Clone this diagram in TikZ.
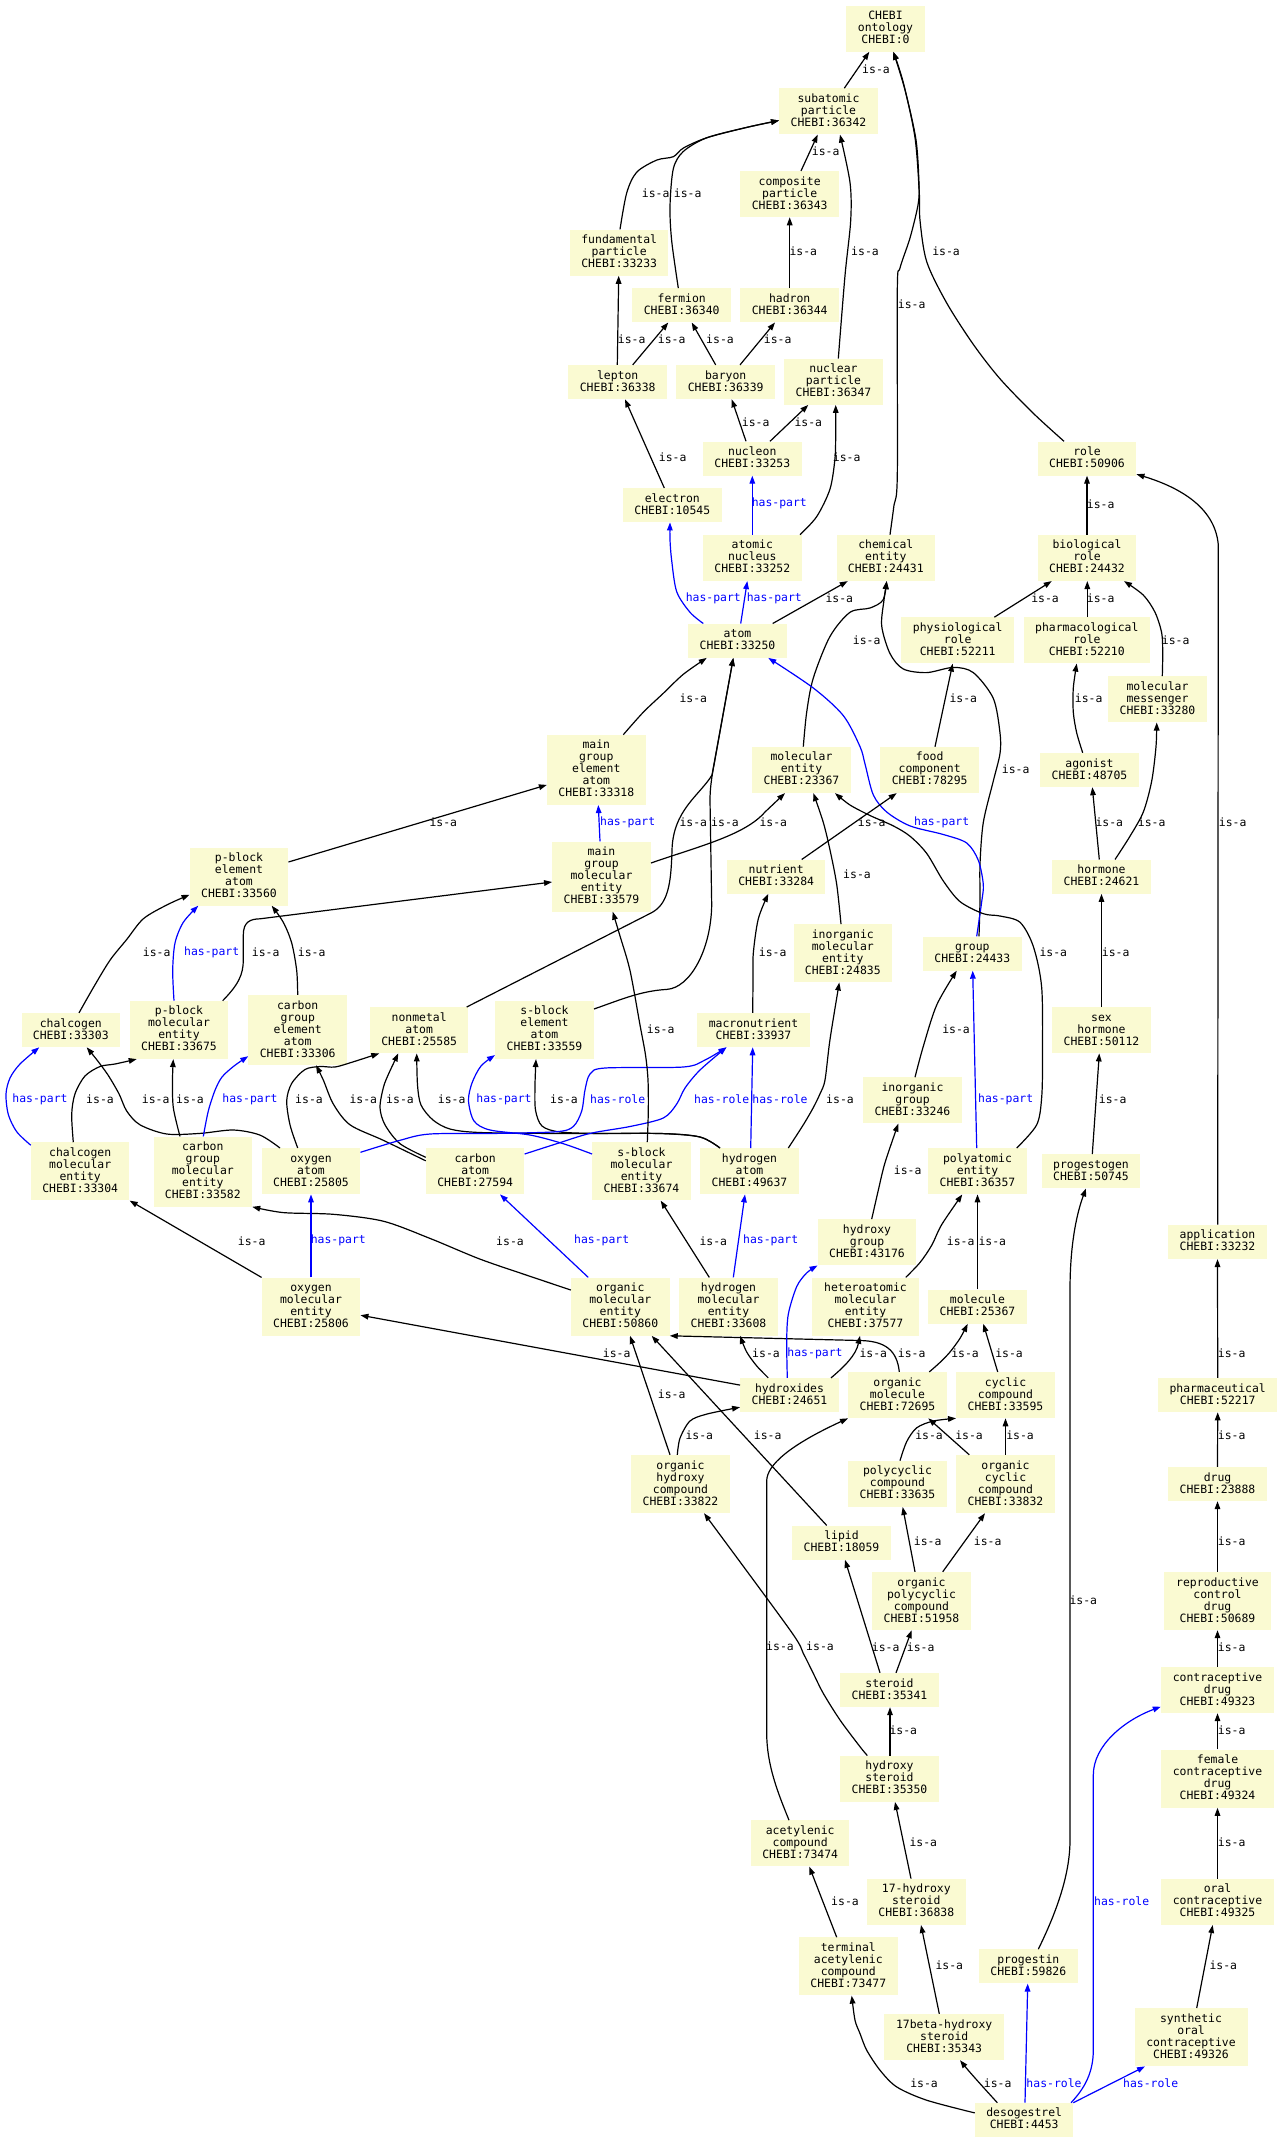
\documentclass[tikz,border=0pt]{standalone}
\usepackage{fontspec}
\newfontfamily\dvm{DejaVu Sans Mono}
\usetikzlibrary{arrows.meta,calc}
\definecolor{nodebg}{HTML}{FAFAD2}
\newcommand\nodefont{\dvm\fontsize{11.43pt}{12pt}\selectfont}
\newcommand\strA{\rule{0pt}{9pt}}
\newcommand\strB{\rule[-3pt]{0pt}{3pt}}
\newcommand\MkNode[6]{\node[nb,minimum width=#4pt,minimum height=#5pt] (#1) at (#2,#3) {\strA#6\strB};}
\newcommand\LabIs[3]{\node[lbl] (#1) at (#2,#3) {is-a};}
\newcommand\LabPart[3]{\node[lbl,text=blue] (#1) at (#2,#3) {has-part};}
\newcommand\LabRole[3]{\node[lbl,text=blue] (#1) at (#2,#3) {has-role};}
\begin{document}
\begin{tikzpicture}[x=1pt,y=-1pt,
  nb/.style={fill=nodebg,inner sep=0pt,align=center,font=\nodefont},
  lbl/.style={font=\nodefont,inner sep=0pt},
  isa/.style={black,line width=1.2pt,-{Triangle[length=8pt,width=5.6pt]}},
  hp/.style={isa,blue}]
\useasboundingbox (0,0) rectangle (1283,2143);
\fill[white] (0,0) rectangle (1283,2143);
% ---------------- nodes
\MkNode{ont}{885.5}{28.6}{79}{46}{CHEBI\\ontology\\CHEBI:0}
\MkNode{sub}{828.5}{111.4}{98.5}{46}{subatomic\\particle\\CHEBI:36342}
\MkNode{comp}{789.7}{194.1}{98.5}{46}{composite\\particle\\CHEBI:36343}
\MkNode{fund}{619.2}{252.6}{98.5}{46}{fundamental\\particle\\CHEBI:33233}
\MkNode{ferm}{681.7}{305.3}{98.5}{34}{fermion\\CHEBI:36340}
\MkNode{hadr}{789.7}{305.3}{98.5}{34}{hadron\\CHEBI:36344}
\MkNode{lept}{617.7}{382.1}{98.5}{34}{lepton\\CHEBI:36338}
\MkNode{bary}{725.7}{382.1}{98.5}{34}{baryon\\CHEBI:36339}
\MkNode{nucp}{833.5}{381.7}{98.5}{46}{nuclear\\particle\\CHEBI:36347}
\MkNode{nucl}{752.3}{458.5}{98.5}{34}{nucleon\\CHEBI:33253}
\MkNode{elec}{672.3}{505.2}{98.5}{34}{electron\\CHEBI:10545}
\MkNode{role}{1087}{458.5}{98.5}{34}{role\\CHEBI:50906}
\MkNode{anuc}{752.3}{557.9}{98.5}{46}{atomic\\nucleus\\CHEBI:33252}
\MkNode{chem}{885.8}{557.9}{98.5}{46}{chemical\\entity\\CHEBI:24431}
\MkNode{biol}{1087}{557.9}{98.5}{46}{biological\\role\\CHEBI:24432}
\MkNode{atom}{737.5}{640.7}{98.5}{34}{atom\\CHEBI:33250}
\MkNode{phys}{957.7}{640.4}{113}{46}{physiological\\role\\CHEBI:52211}
\MkNode{phar}{1086.8}{640.4}{126}{46}{pharmacological\\role\\CHEBI:52210}
\MkNode{mmsg}{1157.5}{699.3}{98.5}{46}{molecular\\messenger\\CHEBI:33280}
\MkNode{mgea}{596.3}{769.9}{98.5}{70}{main\\group\\element\\atom\\CHEBI:33318}
\MkNode{mole}{801.5}{769.9}{98.5}{46}{molecular\\entity\\CHEBI:23367}
\MkNode{food}{929.7}{769.9}{98.5}{46}{food\\component\\CHEBI:78295}
\MkNode{agon}{1089.5}{770}{98.5}{34}{agonist\\CHEBI:48705}
\MkNode{pbea}{239}{876.5}{98.5}{58}{p-block\\element\\atom\\CHEBI:33560}
\MkNode{mgme}{601.5}{876.5}{98.5}{70}{main\\group\\molecular\\entity\\CHEBI:33579}
\MkNode{nutr}{776.2}{876.7}{98.5}{34}{nutrient\\CHEBI:33284}
\MkNode{horm}{1101.5}{876.7}{98.5}{34}{hormone\\CHEBI:24621}
\MkNode{imol}{842.8}{953.3}{98.5}{58}{inorganic\\molecular\\entity\\CHEBI:24835}
\MkNode{grp}{972.3}{953.5}{98.5}{34}{group\\CHEBI:24433}
\MkNode{chal}{70.8}{1030.1}{98.5}{34}{chalcogen\\CHEBI:33303}
\MkNode{pbme}{179}{1029.9}{98.5}{58}{p-block\\molecular\\entity\\CHEBI:33675}
\MkNode{cgea}{297.7}{1030}{98.5}{70}{carbon\\group\\element\\atom\\CHEBI:33306}
\MkNode{nonm}{419.2}{1030.2}{98.5}{46}{nonmetal\\atom\\CHEBI:25585}
\MkNode{sbea}{544.5}{1029.9}{98.5}{58}{s-block\\element\\atom\\CHEBI:33559}
\MkNode{macr}{753.5}{1030.1}{113}{34}{macronutrient\\CHEBI:33937}
\MkNode{sexh}{1101.5}{1030.2}{98.5}{46}{sex\\hormone\\CHEBI:50112}
\MkNode{igrp}{912.5}{1100.4}{98.5}{46}{inorganic\\group\\CHEBI:33246}
\MkNode{chme}{80.2}{1171.4}{98.5}{58}{chalcogen\\molecular\\entity\\CHEBI:33304}
\MkNode{cgme}{202.8}{1171.6}{98.5}{70}{carbon\\group\\molecular\\entity\\CHEBI:33582}
\MkNode{oxat}{311}{1171.2}{98.5}{46}{oxygen\\atom\\CHEBI:25805}
\MkNode{carb}{475.2}{1171.2}{98.5}{46}{carbon\\atom\\CHEBI:27594}
\MkNode{sbme}{641.5}{1171.4}{98.5}{58}{s-block\\molecular\\entity\\CHEBI:33674}
\MkNode{hyat}{749.5}{1171.2}{98.5}{46}{hydrogen\\atom\\CHEBI:49637}
\MkNode{poly}{977.5}{1171.2}{98.5}{46}{polyatomic\\entity\\CHEBI:36357}
\MkNode{prgg}{1091}{1171.2}{98.5}{34}{progestogen\\CHEBI:50745}
\MkNode{hgrp}{867}{1242.3}{98.5}{46}{hydroxy\\group\\CHEBI:43176}
\MkNode{appl}{1217.5}{1241.9}{98.5}{34}{application\\CHEBI:33232}
\MkNode{oxme}{311}{1306.6}{98.5}{58}{oxygen\\molecular\\entity\\CHEBI:25806}
\MkNode{orme}{620.3}{1306.6}{98.5}{58}{organic\\molecular\\entity\\CHEBI:50860}
\MkNode{hyme}{728.5}{1306.6}{98.5}{58}{hydrogen\\molecular\\entity\\CHEBI:33608}
\MkNode{hetm}{865.5}{1306.6}{106.4}{58}{heteroatomic\\molecular\\entity\\CHEBI:37577}
\MkNode{molc}{977.5}{1306.6}{98.5}{34}{molecule\\CHEBI:25367}
\MkNode{hydx}{789.5}{1395.1}{98.5}{34}{hydroxides\\CHEBI:24651}
\MkNode{orgm}{897.5}{1395.1}{98.5}{46}{organic\\molecule\\CHEBI:72695}
\MkNode{cycc}{1005.5}{1395.1}{98.5}{46}{cyclic\\compound\\CHEBI:33595}
\MkNode{phrm}{1217.7}{1395.1}{119.3}{34}{pharmaceutical\\CHEBI:52217}
\MkNode{ohyc}{680.5}{1484}{98.5}{58}{organic\\hydroxy\\compound\\CHEBI:33822}
\MkNode{pcyc}{897.5}{1483.8}{98.5}{46}{polycyclic\\compound\\CHEBI:33635}
\MkNode{occ}{1005.5}{1484}{98.5}{58}{organic\\cyclic\\compound\\CHEBI:33832}
\MkNode{drug}{1217.5}{1484}{98.5}{34}{drug\\CHEBI:23888}
\MkNode{lipd}{841.5}{1542.6}{98.5}{34}{lipid\\CHEBI:18059}
\MkNode{opc}{921.5}{1601}{98.5}{58}{organic\\polycyclic\\compound\\CHEBI:51958}
\MkNode{rcd}{1217.5}{1601}{106.4}{58}{reproductive\\control\\drug\\CHEBI:50689}
\MkNode{ster}{889.5}{1690}{98.5}{34}{steroid\\CHEBI:35341}
\MkNode{cdrg}{1217.5}{1690}{113}{46}{contraceptive\\drug\\CHEBI:49323}
\MkNode{hyst}{889.5}{1778.7}{98.5}{46}{hydroxy\\steroid\\CHEBI:35350}
\MkNode{fcd}{1217.5}{1778.6}{113}{58}{female\\contraceptive\\drug\\CHEBI:49324}
\MkNode{acet}{800.2}{1843.4}{98.5}{46}{acetylenic\\compound\\CHEBI:73474}
\MkNode{hsvt}{916.3}{1901.8}{98.5}{46}{17-hydroxy\\steroid\\CHEBI:36838}
\MkNode{orc}{1217.5}{1901.8}{113}{46}{oral\\contraceptive\\CHEBI:49325}
\MkNode{tac}{848.3}{1966.4}{98.5}{58}{terminal\\acetylenic\\compound\\CHEBI:73477}
\MkNode{prgn}{1028.3}{1966.4}{98.5}{34}{progestin\\CHEBI:59826}
\MkNode{hsvb}{944.2}{2037}{120}{46}{17beta-hydroxy\\steroid\\CHEBI:35343}
\MkNode{soc}{1191}{2037.2}{113}{58}{synthetic\\oral\\contraceptive\\CHEBI:49326}
\MkNode{deso}{1024.2}{2119.9}{98.5}{34}{desogestrel\\CHEBI:4453}
% ---------------- edges: top
\draw[isa] ($(sub.north)+(15.8,0)$) -- ($(ont.south)+(-16.2,0)$);
\draw[isa] plot[smooth] coordinates {($(chem.north)+(4.2,0)$) (894,505) (897.3,475) (897.3,290) (900,268) (910,238) (918,205) (919,185) (916,140) (905,90) ($(ont.south)+(7.8,0)$)};
\draw[isa] plot[smooth] coordinates {($(role.north)+(-23,0)$) (1033.3,413.3) (1000,378.8) (973.3,344.4) (946.7,303) (926.7,261.7) (920,220.4) (919.3,192.9) (915,137.7) (903.3,82.6) ($(ont.south)+(7.8,0)$)};
\draw[isa] ($(comp.north)+(11.3,0)$) -- ($(sub.south)+(-10.8,0)$);
\draw[isa] plot[smooth] coordinates {($(fund.north)+(0.8,0)$) (626.7,192.9) (636.7,172.2) (656.7,160.1) (673.3,156.7) (683.3,148.1) (706.7,137.8) (746.7,127.4) ($(sub.west)+(0,9.1)$)};
\draw[isa] plot[smooth] coordinates {($(ferm.north)+(-3.4,0)$) (671.7,241) (670,206.6) (673.3,168.8) (683.3,151.5) (706.7,137.8) (746.7,127.4) ($(sub.west)+(0,9.1)$)};
\draw[isa] (hadr.north) -- (comp.south);
\draw[isa] plot[smooth] coordinates {($(nucp.north)+(4.8,0)$) (845,275.5) (850.7,220.4) (850,182.5) ($(sub.south)+(11.5,0)$)};
\draw[isa] ($(lept.north)+(-0.4,0)$) -- ($(fund.south)+(-0.5,0)$);
\draw[isa] ($(lept.north)+(15,0)$) -- ($(ferm.south)+(-13.4,0)$);
\draw[isa] ($(bary.north)+(-10,0)$) -- ($(ferm.south)+(10,0)$);
\draw[isa] ($(bary.north)+(14.3,0)$) -- ($(hadr.south)+(-14.7,0)$);
\draw[isa] ($(elec.north)+(-8,0)$) -- ($(lept.south)+(7.3,0)$);
\draw[isa] ($(nucl.north)+(-6.3,0)$) -- ($(bary.south)+(6,0)$);
\draw[isa] ($(nucl.north)+(17.7,0)$) -- ($(nucp.south)+(-25.2,0)$);
\draw[isa] plot[smooth] coordinates {($(anuc.north)+(47.7,0)$) (816.7,516.6) (830,489) (835,458) (835.7,430.5) ($(nucp.south)+(2.2,0)$)};
\draw[hp] (anuc.north) -- (nucl.south);
\draw[hp] plot[smooth] coordinates {($(atom.north)+(-34.2,0)$) (690,612.3) (676.7,591.7) (671.7,560.7) (670,540) ($(elec.south)+(-2.3,0)$)};
\draw[hp] ($(atom.north)+(3.2,0)$) -- ($(anuc.south)+(-5,0)$);
\draw[isa] ($(atom.north)+(35.2,0)$) -- ($(chem.south)+(-38.1,0)$);
\draw[isa] plot[smooth] coordinates {($(mole.north)+(1.8,0)$) (806.7,712) (813.3,678) (830,636.4) (850,612.3) (870,608) (883,600) ($(chem.south)+(0.9,0)$)};
\draw[isa] plot[smooth] coordinates {($(grp.north)+(6.7,0)$) (980,900) (980,864) (983.3,822.4) (993.3,781) (1000,753.5) (1000,732.9) (993.3,698.4) (973.3,672.6) (953.3,667.4) (926.7,672.6) (903.3,669) (890,653.6) (881.7,626) (884,600) ($(chem.south)+(0.9,0)$)};
\draw[hp] plot[smooth] coordinates {($(grp.north)+(4.4,0)$) (981.7,901.6) (983.3,884.4) (978.3,860.3) (966.7,843) (943.3,834.5) (910,825.9) (886.7,812) (873.3,794.9) (865,763.9) (860,746.6) (843.3,715.6) (813.3,688) ($(atom.south)+(30.8,0)$)};
\draw[isa] plot[smooth] coordinates {($(mgea.north)+(27,0)$) (643.3,712.2) (663.3,693.3) (683.3,674.3) ($(atom.south)+(-30.8,0)$)};
\draw[hp] ($(mgme.north)+(-1.5,0)$) -- ($(mgea.south)+(2,0)$);
\draw[isa] ($(mgme.east)+(0,-13.5)$) .. controls (700,846) and (745,835) .. (765,812) -- ($(mole.south)+(-16.5,0)$);
\draw[isa] ($(pbea.east)+(0,-14.5)$) -- ($(mgea.west)+(0,15)$);
\draw[isa] ($(pbme.north)+(43.7,0)$) .. controls (238,985) and (243.3,975) .. (243.3,960) -- (243.3,935) .. controls (243.3,922) and (250,919) .. (260,918.8) -- ($(mgme.west)+(0,5.5)$);
\draw[isa] plot[smooth] coordinates {($(chal.north)+(8.2,0)$) (93.3,987.7) (110,960.2) (126.7,939.5) (143.3,918.8) (166.7,905) ($(pbea.west)+(0,18.2)$)};
\draw[hp] plot[smooth] coordinates {($(pbme.north)+(-5,0)$) (172.7,970.5) (175,943) (183.3,922.3) ($(pbea.south)+(-40.7,0)$)};
\draw[isa] plot[smooth] coordinates {(cgea.north) (296.7,970.5) (291.7,943) (283.3,922.3) ($(pbea.south)+(32.7,0)$)};
\draw[isa] ($(nonm.north)+(47.5,0)$) -- (650,913.5) .. controls (668,905) and (671,885) .. (672,850) .. controls (673,810) and (700,795) .. (712,775) -- ($(atom.south)+(-4.2,0)$);
\draw[isa] ($(sbea.east)+(0,-20.9)$) .. controls (620,1000) and (640,991) .. (666.7,989.4) .. controls (690,988) and (711,950) .. (711.7,905) -- (710,800) .. controls (710,788) and (712,775) .. (714,765) -- ($(atom.south)+(-4.2,0)$);
\draw[isa] ($(nutr.north)+(25.5,0)$) -- ($(food.south)+(-33,0)$);
\draw[isa] plot[smooth] coordinates {($(imol.north)+(-1.8,0)$) (836.7,884.4) (830,850) (823.3,822.4) ($(mole.south)+(11.8,0)$)};
\draw[isa] plot[smooth] coordinates {($(poly.north)+(39.2,0)$) (1036.7,1124.8) (1041.7,1097) (1042.5,1056) (1041.7,987.7) (1033.3,946.4) (1020,922.3) (1000,916) (983.3,913.7) (960,901.6) (943.3,881) (926.7,853.4) (910,836.2) (893.3,825.9) (870,815.5) (850,805) ($(mole.south)+(33.5,0)$)};
\draw[isa] ($(food.north)+(5.3,0)$) -- ($(phys.south)+(-5,0)$);
\draw[isa] ($(phys.north)+(36.6,0)$) -- ($(biol.south)+(-35.3,0)$);
\draw[isa] ($(phar.north)+(0.5,0)$) -- ($(biol.south)+(0.3,0)$);
\draw[isa] plot[smooth] coordinates {($(mmsg.north)+(4.8,0)$) (1162.7,653.6) (1161.7,633) (1155,612.3) (1143.3,595.1) ($(biol.south)+(37,0)$)};
\draw[isa] (biol.north) -- (role.south);
\draw[isa] ($(appl.north)+(0.2,0)$) -- (1218.3,545) .. controls (1215,505) and (1175,486) .. ($(role.south east)+(0,-1.5)$);
\draw[isa] plot[smooth] coordinates {($(agon.north)+(-6.8,0)$) (1076.7,732.9) (1073.3,712.2) (1073.3,688.1) ($(phar.south)+(-10.1,0)$)};
\draw[isa] ($(horm.north)+(-2.2,0)$) -- ($(agon.south)+(2.8,0)$);
\draw[isa] plot[smooth] coordinates {($(horm.north)+(13.5,0)$) (1130,836.2) (1143.3,812) (1151.7,781) (1156,746.6) ($(mmsg.south)+(-0.8,0)$)};
\draw[isa] (sexh.north) -- (horm.south);
\draw[isa] ($(prgg.north)+(1.3,0)$) -- ($(sexh.south)+(-2.2,0)$);
\draw[isa] plot[smooth] coordinates {($(igrp.north)+(2.5,0)$) (923.3,1046.3) (936.7,1005) ($(grp.south)+(-15.6,0)$)};
\draw[hp] ($(poly.north)+(-0.8,0)$) -- ($(grp.south)+(0.4,0)$);
\draw[isa] plot[smooth] coordinates {($(hgrp.north)+(4.7,0)$) (878.3,1190.2) (885,1162.7) ($(igrp.south)+(-14.2,0)$)};
\draw[isa] plot[smooth] coordinates {($(hetm.north)+(40.2,0)$) (920,1262.5) (931.7,1245.3) (941.7,1224.6) ($(poly.south)+(-15.2,0)$)};
\draw[isa] (molc.north) -- (poly.south);
\draw[isa] plot[smooth] coordinates {($(orgm.north)+(31.8,0)$) (940,1362.4) (950,1352) (960,1338.3) ($(molc.south)+(-9.8,0)$)};
\draw[isa] ($(cycc.north)+(-7.8,0)$) -- ($(molc.south)+(5.8,0)$);
\draw[isa] ($(orgm.north)+(1.8,0)$) .. controls (897,1350) and (885,1341) .. (860,1340.5) -- (orme.south east);
\draw[isa] ($(hydx.north)+(41.5,0)$) .. controls (845,1366) and (856,1355) .. ($(hetm.south)+(-5.5,0)$);
\draw[isa] ($(hydx.west)+(0,-10)$) -- ($(oxme.east)+(0,8.6)$);
\draw[isa] plot[smooth] coordinates {($(hydx.north)+(-21.2,0)$) (756.7,1365.9) (746.7,1352) ($(hyme.south)+(11.5,0)$)};
\draw[hp] plot[smooth] coordinates {($(hydx.north)+(-2.2,0)$) (786.7,1341.7) (788.3,1314.2) (796.7,1286.6) (806.7,1272.9) (hgrp.south west)};
\draw[isa] (occ.north) -- (cycc.south);
\draw[isa] ($(occ.north)+(-36.2,0)$) -- ($(orgm.south)+(30.8,0)$);
\draw[isa] plot[smooth] coordinates {($(pcyc.north)+(2.5,0)$) (906.7,1441.6) (916.7,1427.8) (933.3,1421) (cycc.south west)};
\draw[isa] ($(opc.north)+(-6.5,0)$) -- ($(pcyc.south)+(5.2,0)$);
\draw[isa] ($(opc.north)+(21.2,0)$) -- ($(occ.south)+(-20.5,0)$);
\draw[isa] ($(ohyc.north)+(-10.5,0)$) -- ($(orme.south)+(9.7,0)$);
\draw[isa] plot[smooth] coordinates {($(ohyc.north)+(-3.2,0)$) (680,1438.2) (690,1421) (706.7,1414.1) ($(hydx.west)+(0,12.1)$)};
\draw[isa] ($(lipd.north)+(-14.8,0)$) -- ($(orme.south)+(31.4,0)$);
\draw[isa] ($(acet.north)+(-11.2,0)$) .. controls (778,1793) and (766.7,1765) .. (766.7,1733) -- (766.7,1481) .. controls (766.7,1465) and (790,1445) .. (orgm.south west);
\draw[isa] ($(ster.north)+(-9.5,0)$) -- ($(lipd.south)+(3.5,0)$);
\draw[isa] ($(ster.north)+(6.5,0)$) -- ($(opc.south)+(-9.8,0)$);
\draw[isa] ($(hyst.north)+(0.5,0)$) -- ($(ster.south)+(0.5,0)$);
\draw[isa] plot[smooth] coordinates {($(hyst.north)+(-22.2,0)$) (860,1746.7) (840,1720) (823.3,1693.4) (813.3,1673.4) (803.3,1653.4) (790,1630) ($(ohyc.south)+(23.5,0)$)};
\draw[isa] ($(hsvt.north)+(-5.3,0)$) -- ($(hyst.south)+(5.5,0)$);
\draw[isa] ($(hsvb.north)+(-4.9,0)$) -- ($(hsvt.south)+(4.7,0)$);
\draw[isa] ($(tac.north)+(-11.6,0)$) -- ($(acet.south)+(9.1,0)$);
\draw[isa] plot[smooth] coordinates {($(deso.west)+(0,-7)$) (926.7,2100.2) (896.7,2086.9) (880,2070.2) (866.7,2050.2) (860,2033.5) (855,2020.2) ($(tac.south)+(3.4,0)$)};
\draw[isa] plot[smooth] coordinates {($(deso.north)+(-26.9,0)$) (980,2083.6) (968,2070) ($(hsvb.south)+(15.8,0)$)};
\draw[hp] ($(deso.north)+(0.8,0)$) -- ($(prgn.south)+(-0.6,0)$);
\draw[hp] ($(deso.north)+(46.8,0)$) .. controls (1085,2088) and (1093.3,2072) .. (1093.3,2050) -- (1093.3,1775) .. controls (1093.3,1745) and (1125,1720) .. ($(cdrg.west)+(0,16.7)$);
\draw[hp] ($(deso.north)+(49.1,0)$) -- ($(soc.south)+(-46,0)$);
\draw[isa] ($(prgn.north)+(10,0)$) .. controls (1060,1905) and (1070,1870) .. (1070,1840) -- (1070,1290) .. controls (1070,1240) and (1078,1210) .. ($(prgg.south)+(-5,0)$);
\draw[isa] ($(soc.north)+(5.7,0)$) -- ($(orc.south)+(-4.8,0)$);
\draw[isa] (orc.north) -- (fcd.south);
\draw[isa] (fcd.north) -- (cdrg.south);
\draw[isa] (cdrg.north) -- (rcd.south);
\draw[isa] (rcd.north) -- (drug.south);
\draw[isa] (drug.north) -- (phrm.south);
\draw[isa] (phrm.north) -- (appl.south);
% ---------------- edges: middle-left
\draw[hp] plot[smooth] coordinates {($(chme.north west)+(0,3)$) (16.7,1131.7) (8.3,1114.4) (6,1094) (10,1078) (20,1064) ($(chal.south)+(-31.5,0)$)};
\draw[isa] plot[smooth] coordinates {($(chme.north)+(-6.9,0)$) (71.7,1114.4) (75,1093.8) (85,1076) (100,1066.5) (115,1064) ($(pbme.south)+(-42.3,0)$)};
\draw[isa] plot[smooth] coordinates {($(oxat.north)+(-31,0)$) (260,1135.1) (233.3,1130) (200,1133.4) (166.7,1134) (140,1124.8) (126.7,1111) (119,1093.8) (108,1075) (97,1060) ($(chal.south)+(15.9,0)$)};
\draw[isa] plot[smooth] coordinates {($(cgme.north)+(-22.8,0)$) (173.3,1107.6) (172.5,1080) ($(pbme.south)+(-5.7,0)$)};
\draw[hp] plot[smooth] coordinates {($(cgme.north)+(0.5,0)$) (208.3,1111) (215,1090.3) (222,1077) (234,1066) ($(cgea.south west)+(0,-9)$)};
\draw[isa] plot[smooth] coordinates {($(oxat.north)+(-13.3,0)$) (290,1124.8) (286.7,1100.7) (291.7,1083.4) (305,1069.5) (320,1066.5) (335,1067) (353.3,1061.8) ($(nonm.south)+(-39.9,0)$)};
\draw[isa] plot[smooth] coordinates {($(carb.north west)+(0,12.8)$) (383.3,1140.3) (350,1124.8) (333.3,1104) (323.3,1080) ($(cgea.south)+(18.3,0)$)};
\draw[isa] plot[smooth] coordinates {($(carb.north west)+(0,9.3)$) (400,1143.7) (385,1124.8) (380,1107.6) (383.5,1087) (389,1073) ($(nonm.south)+(-20.9,0)$)};
\draw[isa] plot[smooth] coordinates {($(hyat.north)+(-29.5,0)$) (700,1137) (660,1133.5) (560,1133.5) (480,1132.5) (450,1129) (433,1120) (421,1105) (417.5,1085) ($(nonm.south)+(-2.5,0)$)};
\draw[hp] plot[smooth] coordinates {($(sbme.west)+(0,-17.4)$) (563.3,1143.7) (530,1135) (490,1130) (474,1121) (468.5,1100.7) (472,1083) (481,1066) ($(sbea.south west)+(0,-4)$)};
\draw[isa] plot[smooth] coordinates {($(hyat.north)+(-29.5,0)$) (700,1137) (660,1133.5) (600,1133.5) (560,1132) (542,1126) (535.5,1110) (535,1085) ($(sbea.south)+(-8.5,0)$)};
\draw[hp] plot[smooth] coordinates {($(oxat.east)+(0,-18.9)$) (400,1140.3) (430,1134) (496.7,1133.4) (556.7,1131.7) (573.3,1126.5) (581.7,1111) (585,1090) (590,1074) (605,1068) (683.3,1067) (705,1060) ($(macr.south)+(-27,0)$)};
\draw[hp] plot[smooth] coordinates {($(carb.east)+(0,-17.2)$) (556.7,1143.7) (590,1133.4) (630,1126.5) (663.3,1118) (676.7,1104) (685,1088) (700,1070) ($(macr.south)+(-27,0)$)};
\draw[hp] ($(hyat.north)+(1.2,0)$) -- ($(macr.south)+(-0.8,0)$);
\draw[isa] plot[smooth] coordinates {($(hyat.north)+(38.8,0)$) (803.3,1124.8) (813.3,1107.6) (820,1093.8) (825,1080) (830,1039.4) ($(imol.south)+(-3.5,0)$)};
\draw[isa] plot[smooth] coordinates {($(sbme.north)+(5.8,0)$) (648.3,1111) (648,1080) (645.5,1055) (640,1025) (630,970.5) (620,936) ($(mgme.south)+(11.2,0)$)};
\draw[isa] plot[smooth] coordinates {($(macr.north)+(-0.8,0)$) (753,980) (753.3,953.3) (758.3,918.8) ($(nutr.south)+(-7.9,0)$)};
\draw[isa] plot[smooth] coordinates {($(orme.west)+(0,-16.6)$) (530,1276.3) (480,1259.1) (430,1238.4) (383.3,1221.2) (333.3,1214.3) (283.3,1212.6) (cgme.south east)};
\draw[hp] ($(orme.north)+(-32,0)$) -- ($(carb.south)+(24.8,0)$);
\draw[hp] (oxme.north) -- (oxat.south);
\draw[isa] (oxme.north west) -- (chme.south east);
\draw[isa] ($(hyme.north)+(-19.2,0)$) -- ($(sbme.south)+(19.2,0)$);
\draw[hp] ($(hyme.north)+(4.8,0)$) -- ($(hyat.south)+(-4.5,0)$);
% ---------------- labels
\LabIs{l1}{876}{69}
\LabIs{l2}{911.7}{304}
\LabIs{l3}{946}{251.4}
\LabIs{l4}{825.7}{151.2}
\LabIs{l5}{655.7}{193.2}
\LabIs{l6}{687.7}{193.2}
\LabIs{l7}{803.3}{251.4}
\LabIs{l8}{865}{251.4}
\LabIs{l9}{631.7}{339.2}
\LabIs{l10}{671.7}{339.2}
\LabIs{l11}{720}{339.2}
\LabIs{l12}{777.7}{339.2}
\LabIs{l13}{672.7}{457}
\LabIs{l14}{755.7}{421.9}
\LabIs{l15}{808.3}{421.9}
\LabIs{l16}{846.7}{457}
\LabPart{l17}{779.3}{503.8}
\LabPart{l18}{713.3}{598.5}
\LabPart{l19}{774.3}{598.5}
\LabIs{l20}{839.3}{598.5}
\LabIs{l21}{866.7}{640}
\LabIs{l22}{1015.7}{769}
\LabPart{l23}{941.7}{822.4}
\LabIs{l24}{693.3}{698.4}
\LabPart{l25}{627.7}{822.4}
\LabIs{l26}{773.3}{822.4}
\LabIs{l27}{443.3}{822.4}
\LabIs{l28}{265.7}{952.2}
\LabIs{l29}{156.7}{952.2}
\LabPart{l30}{211.7}{952.2}
\LabIs{l31}{311.7}{952.2}
\LabIs{l32}{693.3}{822.4}
\LabIs{l33}{725}{822.4}
\LabIs{l34}{871.7}{822.4}
\LabIs{l35}{857}{874.7}
\LabIs{l36}{1053.3}{952.2}
\LabIs{l37}{963.3}{698.4}
\LabIs{l38}{1045}{598.5}
\LabIs{l39}{1100.7}{598.5}
\LabIs{l40}{1175.7}{640}
\LabIs{l41}{1100.7}{503.8}
\LabIs{l42}{1232.7}{822.4}
\LabIs{l43}{1088.7}{698.4}
\LabIs{l44}{1109.3}{822.4}
\LabIs{l45}{1151.7}{822.4}
\LabIs{l46}{1115.7}{952.2}
\LabIs{l47}{1112.7}{1099}
\LabIs{l48}{956}{1029}
\LabPart{l49}{1005.7}{1099}
\LabIs{l50}{907.7}{1170.2}
\LabIs{l51}{960.7}{1241.2}
\LabIs{l52}{992.3}{1241.2}
\LabIs{l53}{965}{1353.1}
\LabIs{l54}{1009}{1353.1}
\LabIs{l55}{911.7}{1353.1}
\LabIs{l56}{873.3}{1353.1}
\LabIs{l57}{616.7}{1353.1}
\LabIs{l58}{766}{1353.1}
\LabPart{l59}{815}{1353.1}
\LabIs{l60}{1020}{1435}
\LabIs{l61}{969}{1435}
\LabIs{l62}{929}{1435}
\LabIs{l63}{927.7}{1541.1}
\LabIs{l64}{987.7}{1541.1}
\LabIs{l65}{671.7}{1394}
\LabIs{l66}{699.3}{1435}
\LabIs{l67}{767.7}{1435}
\LabIs{l68}{780}{1646.7}
\LabIs{l69}{885.7}{1647.3}
\LabIs{l70}{920.7}{1647.3}
\LabIs{l71}{903.3}{1730}
\LabIs{l72}{820}{1646.7}
\LabIs{l73}{923.3}{1842.1}
\LabIs{l74}{949.3}{1965.2}
\LabIs{l75}{845}{1901.2}
\LabIs{l76}{924}{2082.9}
\LabIs{l77}{997.7}{2082.9}
\LabRole{l78}{1054}{2082.9}
\LabRole{l79}{1121.7}{1901.2}
\LabRole{l80}{1150.7}{2082.9}
\LabIs{l81}{1083.3}{1600}
\LabIs{l82}{1223.3}{1965.2}
\LabIs{l83}{1231.7}{1842.1}
\LabIs{l84}{1231.7}{1730}
\LabIs{l85}{1231.7}{1647.3}
\LabIs{l86}{1231.7}{1541.1}
\LabIs{l87}{1231.7}{1435}
\LabIs{l88}{1231.7}{1353.1}
\LabPart{l89}{40}{1099}
\LabIs{l90}{100}{1099}
\LabIs{l91}{155.7}{1099}
\LabIs{l92}{190}{1099}
\LabPart{l93}{250}{1099}
\LabIs{l94}{309}{1099}
\LabIs{l95}{363.3}{1099}
\LabIs{l96}{400}{1099}
\LabIs{l97}{451.7}{1099}
\LabPart{l98}{504}{1099}
\LabIs{l99}{564}{1099}
\LabRole{l100}{617.7}{1099}
\LabRole{l101}{721.7}{1099}
\LabRole{l102}{780}{1099}
\LabIs{l103}{840}{1099}
\LabIs{l104}{660.7}{1029}
\LabIs{l105}{772.7}{952.2}
\LabIs{l106}{510}{1240.8}
\LabPart{l107}{601.7}{1240.8}
\LabPart{l108}{338.3}{1240.8}
\LabIs{l109}{251.7}{1240.8}
\LabIs{l110}{713.3}{1240.8}
\LabPart{l111}{770.7}{1240.8}
\end{tikzpicture}
\end{document}
